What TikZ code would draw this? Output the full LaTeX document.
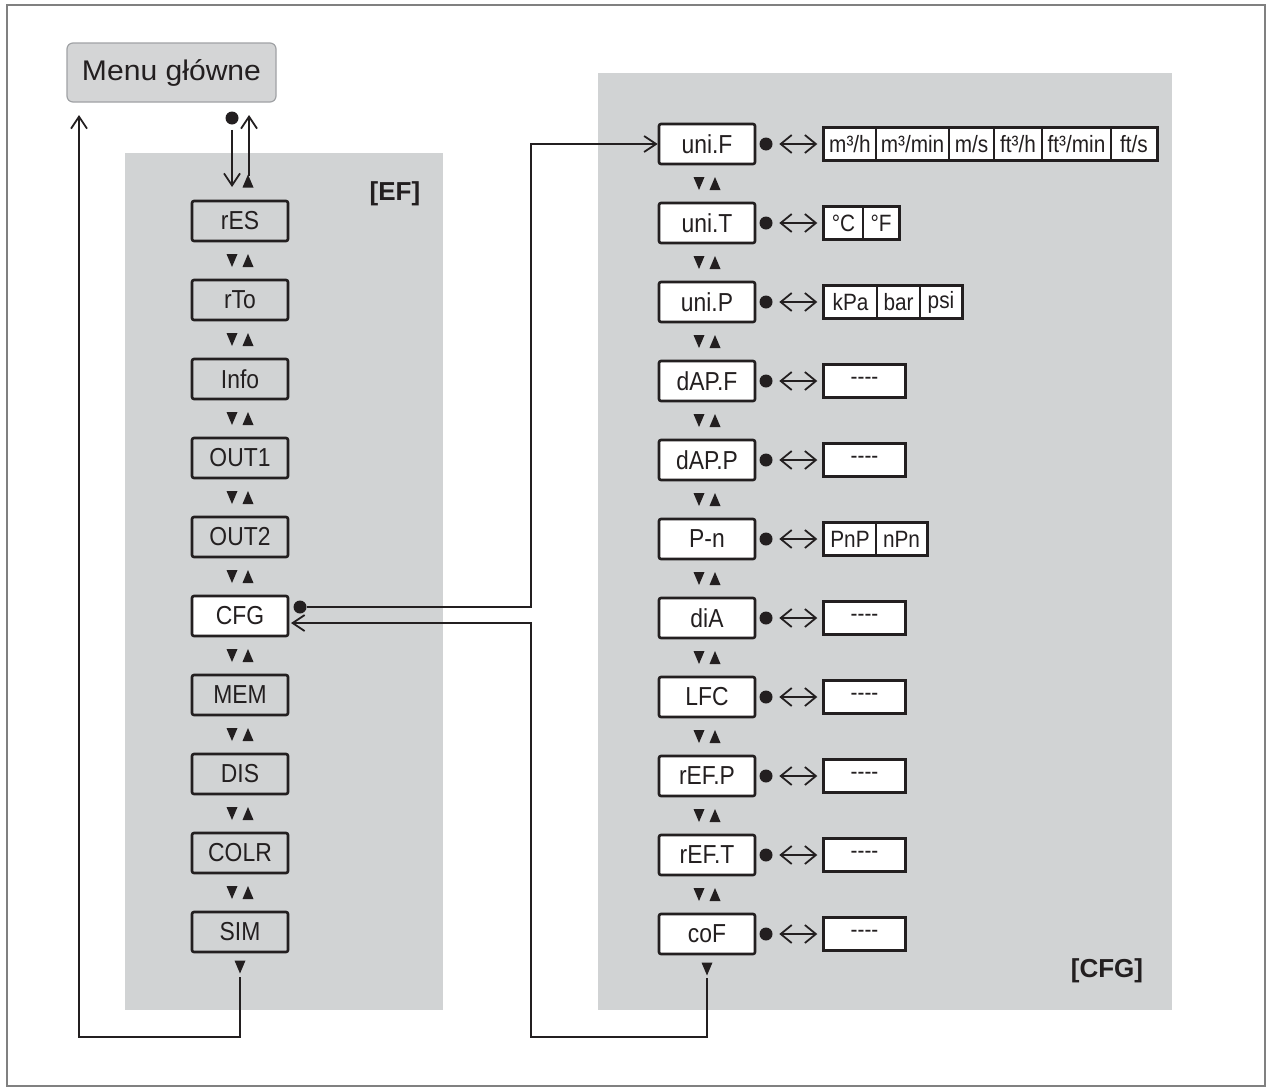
\documentclass[tikz,border=0pt]{standalone}
\usepackage{fontspec}
\setmainfont{Liberation Sans}[FakeStretch=0.88]
\newfontfamily\menufont{Liberation Sans}[FakeStretch=1.06]
\newfontfamily\labfont{Liberation Sans}
\usetikzlibrary{arrows.meta,calc}
\definecolor{panelgray}{RGB}{209,211,212}
\definecolor{menugray}{RGB}{212,213,214}
\definecolor{menuborder}{RGB}{160,162,165}
\definecolor{framegray}{RGB}{128,128,128}
\definecolor{ink}{RGB}{35,31,32}
\tikzset{
  panel/.style={fill=panelgray, draw=none},
  mbox/.style={draw=ink, line width=1.3pt, rounded corners=1pt, minimum width=48pt,
    minimum height=20pt, inner sep=0pt, font=\fontsize{13}{15}\selectfont, text=ink},
  ebox/.style={mbox, fill=panelgray},
  cbox/.style={mbox, fill=white},
  cell/.style={draw=ink, line width=0.7pt, fill=white, minimum height=16pt, inner sep=0pt,
    font=\fontsize{11.8}{13}\selectfont, text=ink},
  optframe/.style={draw=ink, line width=1.2pt},
  dotn/.style={circle, fill=ink, inner sep=0pt, minimum size=6.5pt},
  conn/.style={draw=ink, line width=0.9pt},
  arr/.style={conn, -{Straight Barb[length=6pt,width=8pt]}},
  dbl/.style={conn, {Straight Barb[length=5.5pt,width=9pt]}-{Straight Barb[length=5.5pt,width=9pt]},
    shorten <=3.2pt, shorten >=3pt},
  lab/.style={font=\labfont\bfseries\fontsize{13}{15}\selectfont, text=ink, anchor=base},
  tridn/.pic={\fill[ink] (-5.5,-6.5) -- (5.5,-6.5) -- (0,6.5) -- cycle;},
  triup/.pic={\fill[ink] (-5.5,6.5) -- (5.5,6.5) -- (0,-6.5) -- cycle;}
}
\newcommand\optcell[5]{\node[cell, minimum width={(#3-#2)*0.5pt}] (#1) at ({(#2+#3)/2},#4) {#5};}
\begin{document}
\begin{tikzpicture}[x=0.5pt,y=-0.5pt]
\useasboundingbox (0,0) rectangle (1268,1087);
\fill[white] (0,0) rectangle (1268,1087);
\draw[framegray, line width=1.2pt] (7,5) rectangle (1265,1086);

% panels
\fill[panel] (125,153) rectangle (443,1010);
\fill[panel] (598,73) rectangle (1172,1010);
\node[lab] (efl) at (395,200) {[EF]};
\node[lab] (cfgl) at (1107,977) {[CFG]};

% main menu
\node[draw=menuborder, fill=menugray, line width=0.6pt, rounded corners=3pt,
  minimum width=104.5pt, minimum height=29.5pt, inner sep=0pt,
  font=\menufont\fontsize{14.2}{16}\selectfont, text=ink] (menu) at (171.5,72.5) {Menu główne};

% EF column
\node[ebox] (rES)  at (240,221) {rES};
\node[ebox] (rTo)  at (240,300) {rTo};
\node[ebox] (Info) at (240,379) {Info};
\node[ebox] (OUTa) at (240,458) {OUT1};
\node[ebox] (OUTb) at (240,537) {OUT2};
\node[cbox] (CFG)  at (240,616) {CFG};
\node[ebox] (MEM)  at (240,695) {MEM};
\node[ebox] (DIS)  at (240,774) {DIS};
\node[ebox] (COLR) at (240,853) {COLR};
\node[ebox] (SIM)  at (240,932) {SIM};
\foreach \k in {0,...,8} {
  \pic at (232,{260.5+79*\k}) {tridn};
  \pic at (248,{260.5+79*\k}) {triup};
}
\pic at (248,181) {triup};
\pic at (240,967) {tridn};

% CFG column
\node[cbox] (uniF) at (707,144) {uni.F};
\node[cbox] (uniT) at (707,223) {uni.T};
\node[cbox] (uniP) at (707,302) {uni.P};
\node[cbox] (dAPF) at (707,381) {dAP.F};
\node[cbox] (dAPP) at (707,460) {dAP.P};
\node[cbox] (Pn)   at (707,539) {P-n};
\node[cbox] (diA)  at (707,618) {diA};
\node[cbox] (LFC)  at (707,697) {LFC};
\node[cbox] (rEFP) at (707,776) {rEF.P};
\node[cbox] (rEFT) at (707,855) {rEF.T};
\node[cbox] (coF)  at (707,934) {coF};
\foreach \k in {0,...,9} {
  \pic at (699,{183.5+79*\k}) {tridn};
  \pic at (715,{183.5+79*\k}) {triup};
}
\pic at (707,969) {tridn};

% dots in CFG column
\foreach \n/\y in {dF/144,dT/223,dP/302,dAF/381,dAP/460,dPn/539,ddi/618,dLF/697,drP/776,drT/855,dco/934}
  \node[dotn] (\n) at (766,\y) {};

% option rows
\optcell{fa}{824}{876}{144}{m³/h}
\optcell{fb}{876}{949}{144}{m³/min}
\optcell{fc}{949}{994}{144}{m/s}
\optcell{fd}{994}{1042}{144}{ft³/h}
\optcell{fe}{1042}{1111}{144}{ft³/min}
\optcell{ff}{1111}{1157}{144}{ft/s}
\draw[optframe] (fa.north west) rectangle (ff.south east);

\optcell{ta}{824}{863}{223}{°C}
\optcell{tb}{863}{899}{223}{°F}
\draw[optframe] (ta.north west) rectangle (tb.south east);

\optcell{pa}{824}{877}{302}{kPa}
\optcell{pb}{877}{920}{302}{bar}
\optcell{pc}{920}{962}{302}{psi}
\draw[optframe] (pa.north west) rectangle (pc.south east);

\optcell{na}{824}{876}{539}{PnP}
\optcell{nb}{876}{927}{539}{nPn}
\draw[optframe] (na.north west) rectangle (nb.south east);

\foreach \n/\y in {oAF/381,oAP/460,odi/618,oLF/697,orP/776,orT/855,oco/934} {
  \optcell{\n}{824}{905}{\y}{-{}-{}-{}-}
  \draw[optframe] (\n.north west) rectangle (\n.south east);
}

% double arrows
\draw[dbl] (dF) -- (fa.west);
\draw[dbl] (dT) -- (ta.west);
\draw[dbl] (dP) -- (pa.west);
\draw[dbl] (dAF) -- (oAF.west);
\draw[dbl] (dAP) -- (oAP.west);
\draw[dbl] (dPn) -- (na.west);
\draw[dbl] (ddi) -- (odi.west);
\draw[dbl] (dLF) -- (oLF.west);
\draw[dbl] (drP) -- (orP.west);
\draw[dbl] (drT) -- (orT.west);
\draw[dbl] (dco) -- (oco.west);

% menu connections
\coordinate (mL) at (79,115);
\coordinate (mR) at (249,115);
\node[dotn] (mD) at (232,118) {};
\coordinate (efIn) at (232,187);
\coordinate (efUp) at (249,176);
\draw[arr, shorten <=2.5pt] (mD) -- (efIn);
\draw[arr] (efUp) -- (mR);
\coordinate (simT) at (240,977);
\coordinate (botL) at (79,1037);
\draw[arr] (simT) |- (botL) -- (mL);

% CFG connections
\node[dotn] (cD) at (300,607) {};
\coordinate (jx) at (531,0);
\draw[arr] (cD) -- (cD -| jx) |- (uniF.west);
\coordinate (coT) at (707,978);
\coordinate (botR) at (531,1037);
\coordinate (cfgIn) at (291,623);
\draw[arr] (coT) |- (botR) |- (cfgIn);
\end{tikzpicture}
\end{document}
